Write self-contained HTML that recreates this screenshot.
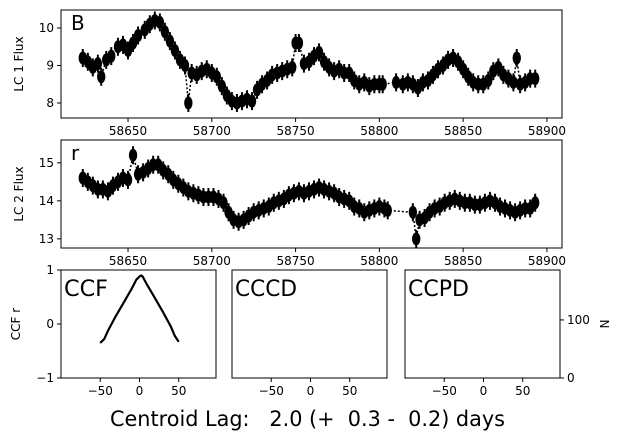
<!DOCTYPE html>
<html><head><meta charset="utf-8"><style>
body{margin:0;background:#fff;}
svg{font-family:"DejaVu Sans","Liberation Sans",sans-serif;}
</style></head><body>
<svg id="chart" width="621" height="438" viewBox="0 0 621 438"></svg>
<script>
const bTimes=[58623,58626,58629,58632,58634,58637,58640,58644,58647,58650,58653,58656,58660,58663,58666,58669,58672,58675,58678,58681,58684,58686,58688,58691,58694,58697,58700,58703,58706,58709,58712,58715,58718,58721,58724,58727,58730,58733,58736,58739,58742,58745,58748,58750,58752,58755,58758,58761,58764,58767,58770,58773,58776,58779,58782,58785,58788,58791,58794,58797,58800,58802,58810,58814,58817,58820,58823,58826,58829,58832,58835,58838,58841,58844,58847,58850,58853,58856,58859,58862,58865,58868,58871,58874,58877,58880,58882,58884,58887,58890,58893];
const bFlux=[9.2,9.1,8.95,9.05,8.7,9.15,9.25,9.5,9.55,9.4,9.6,9.8,9.95,10.1,10.2,10.15,9.9,9.65,9.4,9.15,9.0,8.0,8.8,8.75,8.85,8.9,8.8,8.7,8.45,8.2,8.05,8.0,8.05,8.1,8.05,8.35,8.5,8.6,8.75,8.8,8.85,8.9,8.95,9.6,9.6,9.05,9.1,9.25,9.35,9.1,8.95,8.85,8.9,8.8,8.8,8.6,8.5,8.55,8.45,8.5,8.5,8.5,8.55,8.5,8.55,8.5,8.4,8.55,8.6,8.75,8.9,9.0,9.15,9.2,9.1,8.9,8.7,8.55,8.5,8.5,8.6,8.85,8.95,8.75,8.65,8.55,9.2,8.5,8.55,8.65,8.65];
const rTimes=[58623,58626,58629,58632,58635,58638,58641,58644,58647,58650,58653,58656,58659,58662,58665,58668,58671,58674,58677,58680,58683,58686,58689,58692,58695,58698,58701,58704,58707,58710,58713,58716,58719,58722,58725,58728,58731,58734,58737,58740,58743,58746,58749,58752,58755,58758,58761,58764,58767,58770,58773,58776,58779,58782,58785,58788,58791,58794,58797,58800,58803,58805,58820,58822,58824,58827,58830,58833,58836,58839,58842,58845,58848,58851,58854,58857,58860,58863,58866,58869,58872,58875,58878,58881,58884,58887,58890,58893];
const rFlux=[14.6,14.5,14.4,14.3,14.3,14.25,14.4,14.5,14.6,14.55,15.2,14.7,14.75,14.85,14.95,14.95,14.8,14.7,14.55,14.45,14.35,14.25,14.2,14.15,14.1,14.1,14.1,14.05,13.95,13.7,13.5,13.45,13.5,13.6,13.7,13.75,13.8,13.85,13.95,14.0,14.05,14.15,14.2,14.25,14.2,14.25,14.3,14.35,14.3,14.25,14.2,14.1,14.05,14.0,13.85,13.8,13.7,13.75,13.8,13.85,13.8,13.75,13.7,13.0,13.5,13.55,13.7,13.8,13.85,13.95,14.0,14.05,14.0,13.95,13.95,13.9,13.9,13.95,14.0,13.95,13.85,13.8,13.75,13.7,13.75,13.8,13.8,13.95];
const timeTicks=[58650,58700,58750,58800,58850,58900];
const bTicks=[8,9,10];
const rTicks=[13,14,15];
const ccfLags=[-50,-45,-40,-30,-20,-10,-4,0,2,4,10,20,30,40,45,50];
const ccfR=[-0.35,-0.28,-0.12,0.15,0.4,0.65,0.82,0.88,0.9,0.88,0.72,0.47,0.22,-0.05,-0.22,-0.33];
const lagTicks=[-50,0,50];
const ccfTicks=[-1,0,1];
const nTicks=[0,100];

const NS="http://www.w3.org/2000/svg";
const svg=document.getElementById('chart');
function mk(tag,attrs,parent,text){const e=document.createElementNS(NS,tag);for(const k in attrs)e.setAttribute(k,attrs[k]);if(text!==undefined)e.textContent=text;(parent||svg).appendChild(e);return e;}
function lin(d0,d1,r0,r1){return v=>r0+(v-d0)*(r1-r0)/(d1-d0);}

function lcPanel(name,x0,y0,w,h,ymin,ymax,times,flux,yticks,ylab,letter){
  const g=mk('g',{});
  
  
  const xs=lin(58610,58909,x0,x0+w), ys=lin(ymin,ymax,y0+h,y0);
  let pts=times.map((t,i)=>xs(t).toFixed(1)+','+ys(flux[i]).toFixed(1)).join(' ');
  const pl=mk('polyline',{points:pts,fill:'none',stroke:'#000','stroke-width':1.5,'stroke-dasharray':'2,2'},g);
  
  
  times.forEach((t,i)=>{
    const cx=xs(t),cy=ys(flux[i]);
    const eb=mk('line',{x1:cx,x2:cx,y1:cy-9,y2:cy+9,stroke:'#000','stroke-width':2},g);
    
    
    const c=mk('ellipse',{cx:cx,cy:cy,rx:4.2,ry:6.5,fill:'#000'},g);
    
    
  });
  const fr=mk('rect',{x:x0,y:y0,width:w,height:h,fill:'none',stroke:'#000','stroke-width':1},g);
  
  
  timeTicks.forEach(t=>{const x=xs(t);mk('line',{x1:x,x2:x,y1:y0+h,y2:y0+h+4,stroke:'#000'},g);
    const tl=mk('text',{x:x,y:y0+h+17,'font-size':12,'text-anchor':'middle'},g,String(t));
    
    });
  yticks.forEach(v=>{const y=ys(v);mk('line',{x1:x0-4,x2:x0,y1:y,y2:y,stroke:'#000'},g);
    const tl=mk('text',{x:x0-7,y:y+4,'font-size':12,'text-anchor':'end'},g,String(v));
    
    });
  const yl=mk('text',{transform:`translate(23,${y0+h/2}) rotate(-90)`,'font-size':12,'text-anchor':'middle'},g,ylab);
  
  
  const lt=mk('text',{x:x0+10,y:y0+20,'font-size':20},g,letter);
  
  
}
lcPanel('lc1-panel',61,10,501,108,7.6,10.48,bTimes,bFlux,bTicks,'LC 1 Flux','B');
lcPanel('lc2-panel',61,140,501,108,12.76,15.6,rTimes,rFlux,rTicks,'LC 2 Flux','r');

function smallPanel(name,x0,label,tl){
  const y0=270,w=155,h=108;
  const g=mk('g',{});
  
  
  const xs=lin(-100,97.5,x0,x0+w);
  const fr=mk('rect',{x:x0,y:y0,width:w,height:h,fill:'none',stroke:'#000'},g);
  
  
  lagTicks.forEach(v=>{const x=xs(v);mk('line',{x1:x,x2:x,y1:y0+h,y2:y0+h+4,stroke:'#000'},g);
    const tk=mk('text',{x:x,y:y0+h+17,'font-size':12,'text-anchor':'middle'},g,v<0?'\u2212'+(-v):String(v));
    
    });
  const t=mk('text',{x:x0+3,y:y0+26,'font-size':22,textLength:tl,lengthAdjust:'spacingAndGlyphs'},g,label);
  
  
  return {g,xs};
}
const ccf=smallPanel('ccf-panel',61,'CCF',44);
const ysC=lin(-1,1,378,270);
const cl=mk('polyline',{points:ccfLags.map((l,i)=>ccf.xs(l).toFixed(1)+','+ysC(ccfR[i]).toFixed(1)).join(' '),fill:'none',stroke:'#000','stroke-width':2.2,'stroke-linejoin':'round'},ccf.g);


ccfTicks.forEach(v=>{const y=ysC(v);mk('line',{x1:57,x2:61,y1:y,y2:y,stroke:'#000'});
  const tl=mk('text',{x:54,y:y+4,'font-size':12,'text-anchor':'end'},svg,v<0?'\u2212'+(-v):String(v));
  
  });
const cy=mk('text',{transform:'translate(20,324) rotate(-90)','font-size':12,'text-anchor':'middle'},svg,'CCF r');


smallPanel('cccd-panel',232,'CCCD',62);
smallPanel('ccpd-panel',405,'CCPD',61);
const ysN=lin(0,186,378,270);
nTicks.forEach(v=>{const y=ysN(v);mk('line',{x1:560,x2:564,y1:y,y2:y,stroke:'#000'});
  const tl=mk('text',{x:567,y:y+4,'font-size':12},svg,String(v));
  
  });
const ny=mk('text',{transform:'translate(600,324) rotate(90)','font-size':12,'text-anchor':'middle'},svg,'N');


const lag=mk('text',{x:110,y:426,'font-size':21,textLength:395,lengthAdjust:'spacingAndGlyphs'},svg,'Centroid Lag:   2.0 (+  0.3 -  0.2) days');
lag.setAttribute('style','white-space:pre');


</script>
</body></html>
